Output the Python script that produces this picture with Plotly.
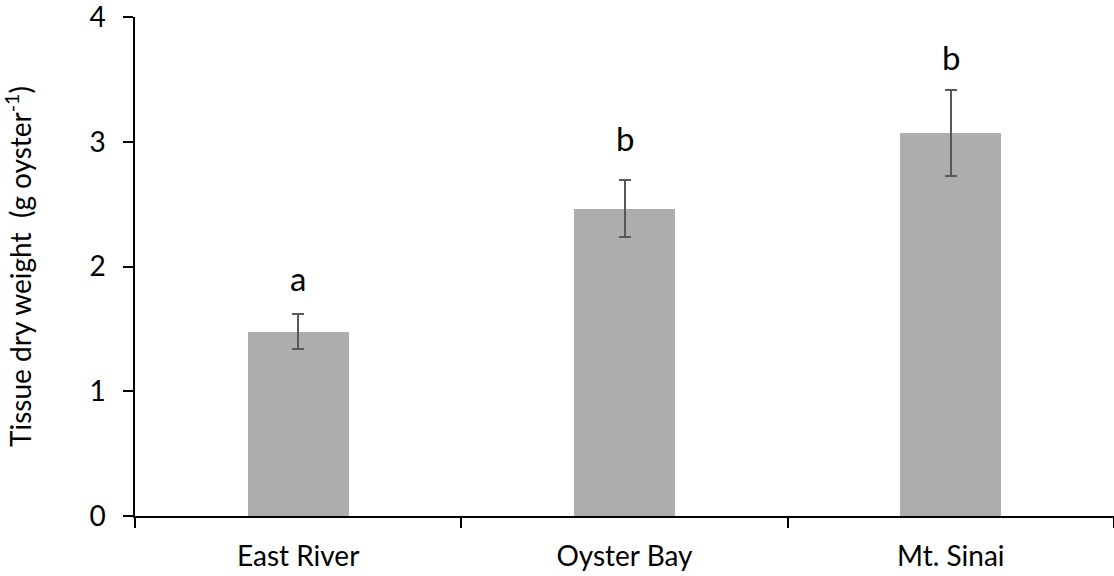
import plotly.graph_objects as go

categories = ["East River", "Oyster Bay", "Mt. Sinai"]
means = [1.477, 2.463, 3.07]
errors = [0.139, 0.23, 0.345]
letters = ["a", "b", "b"]
letter_y = [1.91, 3.03, 3.68]
y_ticks = [0, 1, 2, 3, 4]

FONT = "Lato"

fig = go.Figure()
fig.add_trace(go.Bar(
    x=categories, y=means, width=0.31,
    marker=dict(color="#ADADAD", line=dict(width=0)),
    error_y=dict(type="data", array=errors, visible=True,
                 color="#595959", thickness=2, width=6),
    showlegend=False,
))

for c, l, yy in zip(categories, letters, letter_y):
    fig.add_annotation(x=c, y=yy, text=l, showarrow=False,
                       font=dict(family=FONT, size=33, color="black"),
                       xanchor="center", yanchor="middle")

fig.update_layout(
    width=1114, height=576,
    margin=dict(l=135, r=0, t=17, b=60),
    plot_bgcolor="white", paper_bgcolor="white",
    font=dict(family=FONT, color="black"),
    bargap=0,
)
fig.update_xaxes(
    type="category", range=[-0.5, 2.5], automargin=False,
    showline=True, linecolor="black", linewidth=1.5,
    ticks="outside", tickson="boundaries", ticklen=10, tickcolor="black", tickwidth=1.5,
    tickfont=dict(family=FONT, size=28, color="black"), ticklabelstandoff=15,
    showgrid=False, zeroline=False,
)
fig.update_yaxes(
    range=[0, 4.0005], tickvals=y_ticks, automargin=False,
    ticklabeloverflow="allow",
    showline=True, linecolor="black", linewidth=1.5,
    ticks="outside", ticklen=10, tickcolor="black", tickwidth=1.5,
    tickfont=dict(family=FONT, size=28, color="black"), ticklabelstandoff=12,
    showgrid=False, zeroline=False,
    title=dict(text="Tissue dry weight  (g oyster<sup>-1</sup>)",
               font=dict(family=FONT, size=28, color="black"), standoff=53),
)

fig.write_html("out.html")
